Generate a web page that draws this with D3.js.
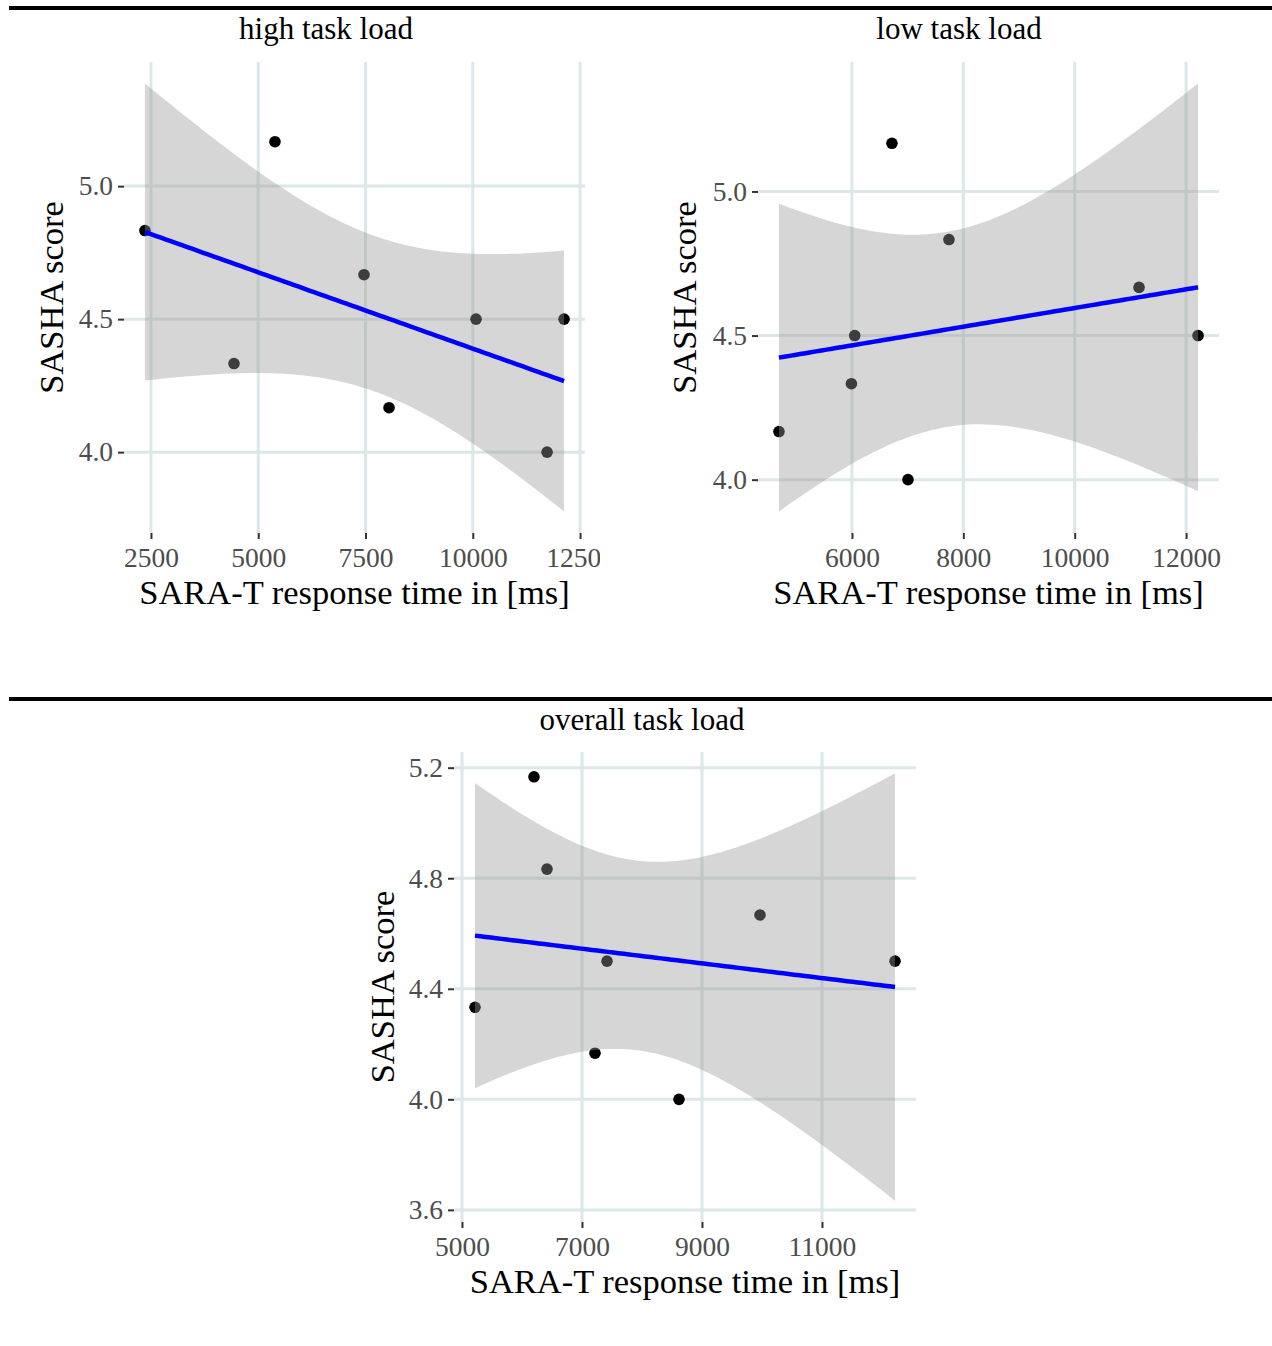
<!DOCTYPE html>
<html>
<head>
<meta charset="utf-8">
<script src="https://cdn.jsdelivr.net/npm/d3@7"></script>
<style>
  html, body { margin: 0; padding: 0; background: #ffffff; }
  svg { display: block; }
</style>
</head>
<body>
<svg id="chart" width="1272" height="1346"></svg>
<script>
// ---- data ----
const panelTitles = ["high task load", "low task load", "overall task load"];
const xAxisTitle = "SARA-T response time in [ms]";
const yAxisTitle = "SASHA score";

const highX = [2360, 4435, 5390, 7465, 8048, 10076, 11731, 12127];
const highY = [4.833, 4.333, 5.167, 4.667, 4.167, 4.5, 4.0, 4.5];

const lowX = [4689, 5990, 6050, 6718, 7006, 7742, 11155, 12215];
const lowY = [4.167, 4.333, 4.5, 5.167, 4.0, 4.833, 4.667, 4.5];

const overallX = [5217, 6200, 6417, 7217, 7417, 8617, 9967, 12217];
const overallY = [4.333, 5.167, 4.833, 4.167, 4.5, 4.0, 4.667, 4.5];

const highXTicks = [2500, 5000, 7500, 10000, 12500];
const highYTicks = [4.0, 4.5, 5.0];
const lowXTicks = [6000, 8000, 10000, 12000];
const lowYTicks = [4.0, 4.5, 5.0];
const overallXTicks = [5000, 7000, 9000, 11000];
const overallYTicks = [3.6, 4.0, 4.4, 4.8, 5.2];

const highYTickLabels = ["4.0", "4.5", "5.0"];
const lowYTickLabels = ["4.0", "4.5", "5.0"];
const overallYTickLabels = ["3.6", "4.0", "4.4", "4.8", "5.2"];

// ---- linear fit with 95% confidence band (like geom_smooth(method = "lm")) ----
function lmFit(xs, ys, nPts) {
  const n = xs.length;
  const mx = d3.mean(xs), my = d3.mean(ys);
  let sxx = 0, sxy = 0;
  for (let i = 0; i < n; i++) { sxx += (xs[i]-mx)*(xs[i]-mx); sxy += (xs[i]-mx)*(ys[i]-my); }
  const b = sxy / sxx, a = my - b*mx;
  let ssr = 0;
  for (let i = 0; i < n; i++) { const r = ys[i] - (a + b*xs[i]); ssr += r*r; }
  const s = Math.sqrt(ssr / (n - 2));
  const tq = 2.446912; // t(0.975, df = 6)
  const [x0, x1] = d3.extent(xs);
  return d3.range(nPts).map(i => {
    const x = x0 + i*(x1-x0)/(nPts-1);
    const y = a + b*x;
    const se = s*Math.sqrt(1/n + (x-mx)*(x-mx)/sxx);
    return {x, y, lo: y - tq*se, hi: y + tq*se};
  });
}

const svg = d3.select("#chart");
const FONT = "'Liberation Serif', 'Times New Roman', serif";

// separator rules
svg.append("line").attr("x1", 9).attr("x2", 1272).attr("y1", 8).attr("y2", 8)
  .attr("stroke", "#000").attr("stroke-width", 4);
svg.append("line").attr("x1", 9).attr("x2", 1272).attr("y1", 699).attr("y2", 699)
  .attr("stroke", "#000").attr("stroke-width", 4);

const panels = [
  {title: panelTitles[0], xs: highX, ys: highY, xt: highXTicks, yt: highYTicks, ytl: highYTickLabels,
   box: {l: 124, r: 585, t: 62, b: 533}, titleX: 326, titleY: 39, yTitleX: 63, clipR: 600},
  {title: panelTitles[1], xs: lowX, ys: lowY, xt: lowXTicks, yt: lowYTicks, ytl: lowYTickLabels,
   box: {l: 758, r: 1219, t: 62, b: 533}, titleX: 959, titleY: 39, yTitleX: 696, clipR: null},
  {title: panelTitles[2], xs: overallX, ys: overallY, xt: overallXTicks, yt: overallYTicks, ytl: overallYTickLabels,
   box: {l: 454, r: 916, t: 752, b: 1222}, titleX: 642, titleY: 730, yTitleX: 394, clipR: null}
];

panels.forEach((p, pi) => {
  let g = svg.append("g");
  if (p.clipR) {
    svg.append("clipPath").attr("id", "clip" + pi)
      .append("rect").attr("x", 0).attr("y", 0).attr("width", p.clipR).attr("height", 1346);
    g.attr("clip-path", "url(#clip" + pi + ")");
  }
  const fit = lmFit(p.xs, p.ys, 80);
  const [xmin, xmax] = d3.extent(p.xs);
  const xr = xmax - xmin;
  const ymin = Math.min(d3.min(p.ys), d3.min(fit, d => d.lo));
  const ymax = Math.max(d3.max(p.ys), d3.max(fit, d => d.hi));
  const yr = ymax - ymin;
  const x = d3.scaleLinear().domain([xmin - 0.05*xr, xmax + 0.05*xr]).range([p.box.l, p.box.r]);
  const y = d3.scaleLinear().domain([ymin - 0.05*yr, ymax + 0.05*yr]).range([p.box.b, p.box.t]);

  // grid
  const grid = g.append("g");
  grid.selectAll("line.h").data(p.yt).join("line")
    .attr("x1", p.box.l).attr("x2", p.box.r)
    .attr("y1", d => y(d)).attr("y2", d => y(d))
    .attr("stroke", "#dce7e7").attr("stroke-width", 3);
  grid.selectAll("line.v").data(p.xt).join("line")
    .attr("y1", p.box.t).attr("y2", p.box.b)
    .attr("x1", d => x(d)).attr("x2", d => x(d))
    .attr("stroke", "#dce7e7").attr("stroke-width", 3);

  // points
  g.append("g").selectAll("circle").data(p.xs.map((v, i) => [v, p.ys[i]])).join("circle")
    .attr("cx", d => x(d[0])).attr("cy", d => y(d[1])).attr("r", 5.8).attr("fill", "#000");

  // confidence ribbon
  const area = d3.area().x(d => x(d.x)).y0(d => y(d.lo)).y1(d => y(d.hi));
  g.append("path").datum(fit).attr("d", area).attr("fill", "#999999").attr("fill-opacity", 0.4);

  // fit line
  const line = d3.line().x(d => x(d.x)).y(d => y(d.y));
  g.append("path").datum(fit).attr("d", line).attr("fill", "none")
    .attr("stroke", "#0000ff").attr("stroke-width", 4.5);

  // y axis
  const yAxis = d3.axisLeft(y).tickValues(p.yt).tickFormat((d, i) => p.ytl[i]).tickSize(6).tickPadding(5);
  const ya = g.append("g").attr("transform", `translate(${p.box.l},0)`).call(yAxis);
  ya.select(".domain").remove();
  ya.selectAll(".tick line").attr("stroke", "#333333").attr("stroke-width", 2);
  ya.selectAll(".tick text").attr("fill", "#4d4d4d").attr("font-family", FONT).attr("font-size", 27.5);

  // x axis
  const xAxis = d3.axisBottom(x).tickValues(p.xt).tickFormat(d3.format("d")).tickSize(6).tickPadding(8);
  const xa = g.append("g").attr("transform", `translate(0,${p.box.b})`).call(xAxis);
  xa.select(".domain").remove();
  xa.selectAll(".tick line").attr("stroke", "#333333").attr("stroke-width", 2);
  xa.selectAll(".tick text").attr("fill", "#4d4d4d").attr("font-family", FONT).attr("font-size", 27.5);

  // titles
  g.append("text").attr("x", p.titleX).attr("y", p.titleY).attr("text-anchor", "middle")
    .attr("font-family", FONT).attr("font-size", 31).attr("fill", "#000").text(p.title);
  g.append("text").attr("x", (p.box.l + p.box.r)/2).attr("y", p.box.b + 71).attr("text-anchor", "middle")
    .attr("font-family", FONT).attr("font-size", 34.5).attr("fill", "#000").text(xAxisTitle);
  g.append("text").attr("transform", `translate(${p.yTitleX},${(p.box.t + p.box.b)/2}) rotate(-90)`)
    .attr("text-anchor", "middle")
    .attr("font-family", FONT).attr("font-size", 34.5).attr("fill", "#000").text(yAxisTitle);
});
</script>
</body>
</html>
